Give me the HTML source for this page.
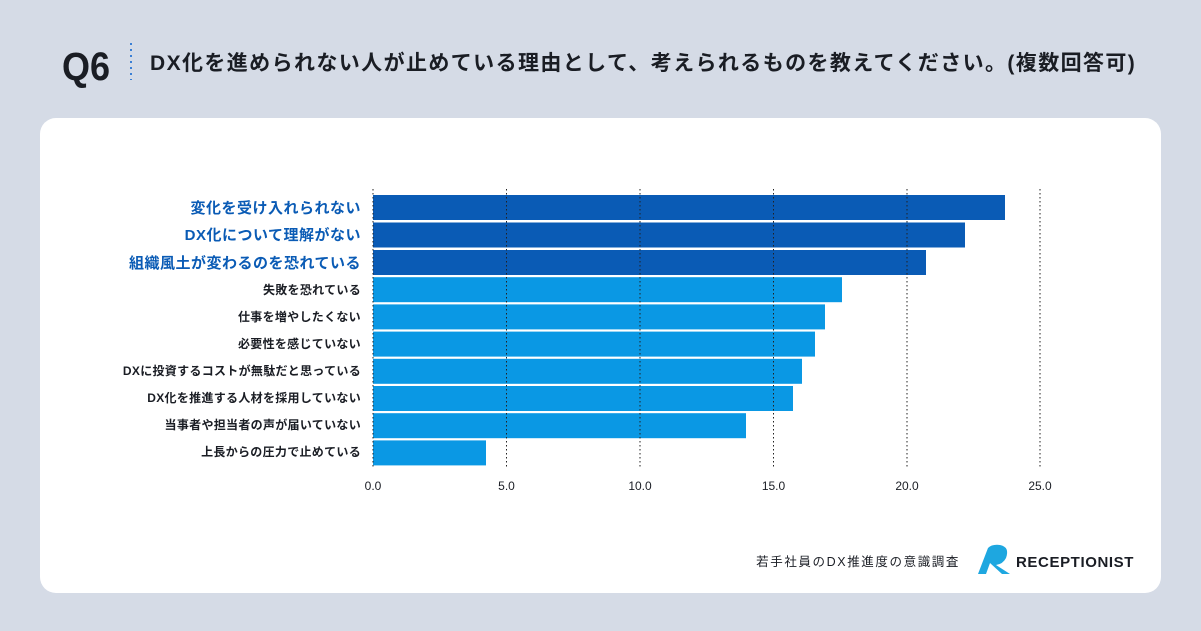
<!DOCTYPE html>
<html><head><meta charset="utf-8"><style>
body{margin:0;width:1201px;height:631px;background:#d5dbe6;overflow:hidden;font-family:"Liberation Sans","Noto Sans CJK JP",sans-serif}
</style></head><body>
<svg width="1201" height="631" xmlns="http://www.w3.org/2000/svg" style="position:absolute;left:0;top:0">
<text x="62" y="80" font-size="40" font-weight="bold" fill="#1a1d24" font-family="Liberation Sans Narrow, Liberation Sans, sans-serif" transform="translate(62 0) scale(0.9 1) translate(-62 0)">Q6</text>
<line x1="131" y1="43" x2="131" y2="80" stroke="#3a7fd5" stroke-width="2" stroke-dasharray="2,4"/>
<text x="150" y="70" font-size="21" font-weight="bold" fill="#1a1d24" letter-spacing="1.4" font-family="Liberation Sans, Noto Sans CJK JP, sans-serif">DX化を進められない人が止めている理由として、考えられるものを教えてください。(複数回答可)</text>
<rect x="40" y="118" width="1121" height="475" rx="16" fill="#fff"/>
<g font-family="Liberation Sans, Noto Sans CJK JP, sans-serif" text-anchor="end">
<g fill="#0a5bb5">
<rect x="373" y="195" width="632" height="25"/>
<rect x="373" y="222.5" width="592" height="25"/>
<rect x="373" y="250" width="553" height="25"/>
</g>
<g fill="#0a98e4">
<rect x="373" y="277.2" width="469" height="25"/>
<rect x="373" y="304.4" width="452" height="25"/>
<rect x="373" y="331.6" width="442" height="25"/>
<rect x="373" y="358.8" width="429" height="25"/>
<rect x="373" y="386" width="420" height="25"/>
<rect x="373" y="413.2" width="373" height="25"/>
<rect x="373" y="440.4" width="113" height="25"/>
</g>
<g stroke="#222" stroke-width="1" stroke-dasharray="1.5,2.5">
<line x1="373" y1="189" x2="373" y2="467"/>
<line x1="506.5" y1="189" x2="506.5" y2="467"/>
<line x1="640" y1="189" x2="640" y2="467"/>
<line x1="773.5" y1="189" x2="773.5" y2="467"/>
<line x1="907" y1="189" x2="907" y2="467"/>
<line x1="1040" y1="189" x2="1040" y2="467"/>
</g>
<g font-size="15" font-weight="bold" fill="#0a5bb5" letter-spacing="0.5">
<text x="361" y="213">変化を受け入れられない</text>
<text x="361" y="240">DX化について理解がない</text>
<text x="361" y="268">組織風土が変わるのを恐れている</text>
</g>
<g font-size="12" fill="#1a1d24" font-weight="bold" letter-spacing="0.3">
<text x="361" y="294">失敗を恐れている</text>
<text x="361" y="321">仕事を増やしたくない</text>
<text x="361" y="348">必要性を感じていない</text>
<text x="361" y="375">DXに投資するコストが無駄だと思っている</text>
<text x="361" y="402">DX化を推進する人材を採用していない</text>
<text x="361" y="429">当事者や担当者の声が届いていない</text>
<text x="361" y="456">上長からの圧力で止めている</text>
</g>
<g font-size="12" fill="#1a1d24" text-anchor="middle">
<text x="373" y="490">0.0</text>
<text x="506.5" y="490">5.0</text>
<text x="640" y="490">10.0</text>
<text x="773.5" y="490">15.0</text>
<text x="907" y="490">20.0</text>
<text x="1040" y="490">25.0</text>
</g>
<text x="960" y="566" font-size="12.5" fill="#1a1d24" letter-spacing="1.6">若手社員のDX推進度の意識調査</text>
</g>
<path d="M978 574 L988 548 Q992 544 1000 545 Q1010 547 1006 558 Q1003 564 996 565 L1010 574 L1002 574 L990 563 L986 574 Z" fill="#1ea7e0"/>
<text x="1016" y="567" font-size="15" font-weight="bold" fill="#1a1d24" letter-spacing="0.6" font-family="Liberation Sans, sans-serif">RECEPTIONIST</text>
</svg>
</body></html>
